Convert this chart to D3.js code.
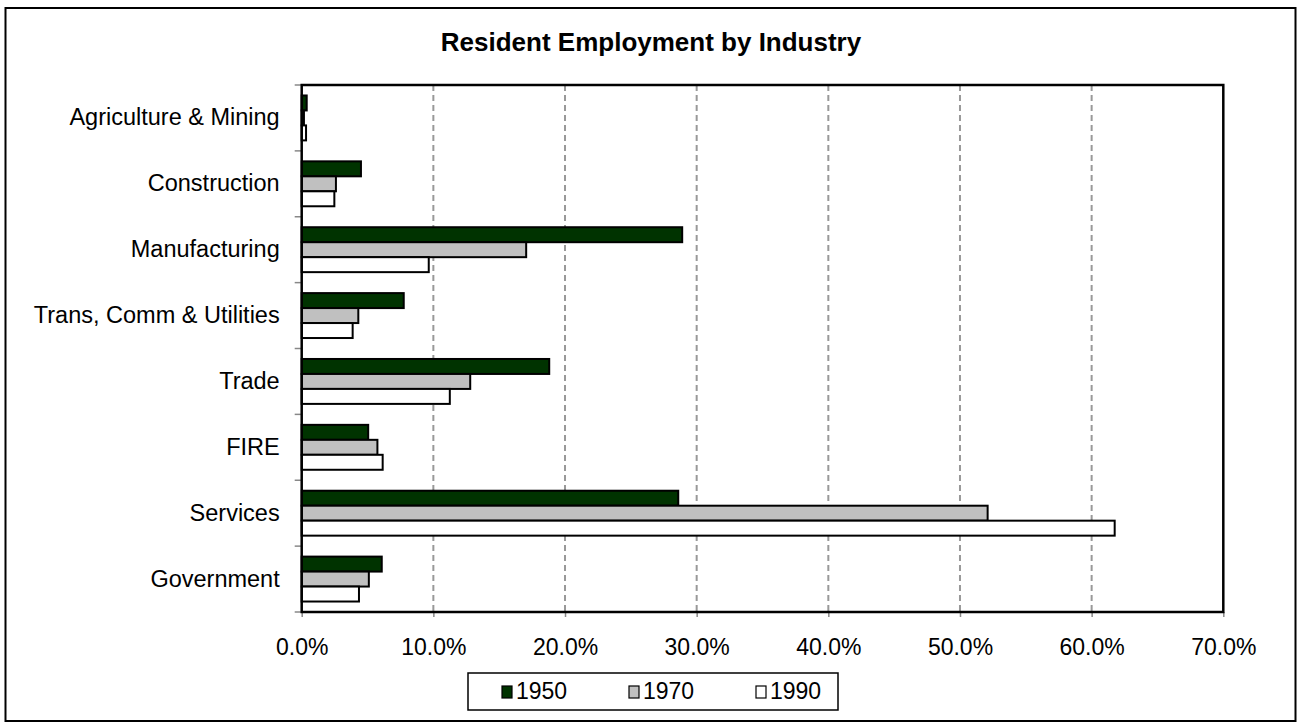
<!DOCTYPE html>
<html>
<head>
<meta charset="utf-8">
<script src="https://cdn.jsdelivr.net/npm/d3@7"></script>
<style>
  html, body { margin: 0; padding: 0; background: #fff; }
  svg { display: block; font-family: "Liberation Sans", Arial, sans-serif; }
</style>
</head>
<body>
<svg id="chart" width="1301" height="728"></svg>
<script>
// Share of resident employment by industry (percent)
const categories = ["Agriculture & Mining", "Construction", "Manufacturing", "Trans, Comm & Utilities", "Trade", "FIRE", "Services", "Government"];
const years = ["1950", "1970", "1990"];
const values1950 = [0.38, 4.5, 28.9, 7.75, 18.8, 5.05, 28.6, 6.08];
const values1970 = [0.17, 2.6, 17.05, 4.3, 12.8, 5.75, 52.1, 5.1];
const values1990 = [0.33, 2.48, 9.65, 3.87, 11.25, 6.15, 61.75, 4.35];
const xTicks = [0, 10, 20, 30, 40, 50, 60, 70];
const colors = ["#003300", "#C0C0C0", "#FFFFFF"];

const series = [values1950, values1970, values1990];
const svg = d3.select("#chart");
const FONT = "'Liberation Sans', Arial, sans-serif";

// outer frame
svg.append("rect")
  .attr("x", 5.5).attr("y", 8).attr("width", 1290).attr("height", 713)
  .attr("fill", "#fff").attr("stroke", "#000").attr("stroke-width", 2);

const plot = { left: 301.7, right: 1223.3, top: 85, bottom: 612 };

const x = d3.scaleLinear().domain([0, 70]).range([plot.left, plot.right]);
const y = d3.scaleBand().domain(categories).range([plot.top, plot.bottom]).padding(0);
const ySub = d3.scaleBand().domain(years).range([0, y.bandwidth()]).paddingInner(0).paddingOuter(0.7);

// title
svg.append("text")
  .attr("x", 651).attr("y", 51)
  .attr("text-anchor", "middle")
  .attr("font-size", 26).attr("font-weight", "bold")
  .text("Resident Employment by Industry");

// dashed gridlines
svg.append("g")
  .selectAll("line")
  .data(xTicks.filter(t => t > 0 && t < 70))
  .join("line")
  .attr("x1", d => x(d)).attr("x2", d => x(d))
  .attr("y1", plot.top).attr("y2", plot.bottom)
  .attr("stroke", "#999").attr("stroke-width", 2)
  .attr("stroke-dasharray", "6,4");

// bars
const groups = svg.append("g")
  .selectAll("g")
  .data(categories)
  .join("g")
  .attr("transform", d => `translate(0,${y(d)})`);

groups.selectAll("rect")
  .data((c, i) => years.map((yr, k) => ({ yr, k, v: series[k][i] })))
  .join("rect")
  .attr("x", x(0))
  .attr("y", d => ySub(d.yr))
  .attr("width", d => x(d.v) - x(0))
  .attr("height", ySub.bandwidth())
  .attr("fill", d => colors[d.k])
  .attr("stroke", "#000")
  .attr("stroke-width", 2);

// x axis
const xAxis = d3.axisBottom(x)
  .tickValues(xTicks)
  .tickFormat(d => d.toFixed(1) + "%")
  .tickSize(5)
  .tickPadding(22);
const gx = svg.append("g")
  .attr("transform", `translate(0,${plot.bottom})`)
  .call(xAxis);
gx.select(".domain").remove();
gx.selectAll(".tick line").attr("stroke", "#888").attr("stroke-width", 1.5);
gx.selectAll(".tick text").attr("font-size", 23).attr("fill", "#000")
  .attr("font-family", FONT);

// y axis: ticks at category boundaries, labels centred on bands
const yAxis = d3.axisLeft(y).tickSize(0).tickPadding(22);
const gy = svg.append("g")
  .attr("transform", `translate(${plot.left},0)`)
  .call(yAxis);
gy.select(".domain").remove();
gy.selectAll(".tick text").attr("font-size", 23.5).attr("fill", "#000")
  .attr("font-family", FONT);

svg.append("g")
  .selectAll("line")
  .data(d3.range(categories.length + 1))
  .join("line")
  .attr("x1", plot.left - 7).attr("x2", plot.left)
  .attr("y1", i => plot.top + i * y.step())
  .attr("y2", i => plot.top + i * y.step())
  .attr("stroke", "#888").attr("stroke-width", 1.5);

// plot border
svg.append("rect")
  .attr("x", plot.left).attr("y", plot.top)
  .attr("width", plot.right - plot.left).attr("height", plot.bottom - plot.top)
  .attr("fill", "none").attr("stroke", "#000").attr("stroke-width", 2.5);

// legend
const legend = svg.append("g");
legend.append("rect")
  .attr("x", 468).attr("y", 673).attr("width", 370).attr("height", 37)
  .attr("fill", "#fff").attr("stroke", "#000").attr("stroke-width", 1.5);
const items = legend.selectAll("g.item")
  .data(years)
  .join("g")
  .attr("class", "item")
  .attr("transform", (d, i) => `translate(${502 + i * 127},0)`);
items.append("rect")
  .attr("x", 0).attr("y", 686).attr("width", 10).attr("height", 12)
  .attr("fill", (d, i) => colors[i]).attr("stroke", "#000").attr("stroke-width", 1.2);
items.append("text")
  .attr("x", 14).attr("y", 699)
  .attr("font-size", 23)
  .text(d => d);
</script>
</body>
</html>
